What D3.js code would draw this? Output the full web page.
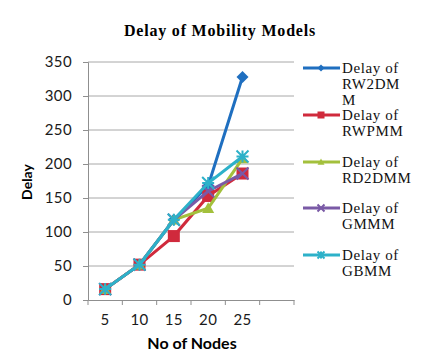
<!DOCTYPE html>
<html>
<head>
<meta charset="utf-8">
<script src="https://cdn.jsdelivr.net/npm/d3@7"></script>
<style>
  body { margin: 0; background: #fff; }
  svg { display: block; }
</style>
</head>
<body>
<div id="chart"></div>
<script>
// datos
const nodes = ['5', '10', '15', '20', '25', ''];
const rw2dmm = [16, 52, 118, 168, 328];
const rwpmm = [16, 52, 94, 153, 186];
const rd2dmm = [16, 52, 118, 135, 208];
const gmmm = [16, 52, 118, 160, 186];
const gbmm = [16, 52, 118, 172, 211];
const yTicks = [0, 50, 100, 150, 200, 250, 300, 350];
const seriesNames = [['Delay of', 'RW2DM', 'M'], ['Delay of', 'RWPMM'], ['Delay of', 'RD2DMM'], ['Delay of', 'GMMM'], ['Delay of', 'GBMM']];

const width = 427;
const height = 354;
const plotLeft = 88, plotRight = 294, plotTop = 62, plotBottom = 300;

const series = [
  { name: seriesNames[0], values: rw2dmm, color: '#1f6fc0', marker: 'diamond' },
  { name: seriesNames[1], values: rwpmm, color: '#d02a3c', marker: 'square' },
  { name: seriesNames[2], values: rd2dmm, color: '#a3c03c', marker: 'triangle' },
  { name: seriesNames[3], values: gmmm, color: '#7a5aa6', marker: 'x' },
  { name: seriesNames[4], values: gbmm, color: '#2db1c9', marker: 'star' }
];

const svg = d3.select('#chart').append('svg')
  .attr('width', width)
  .attr('height', height);

const x = d3.scaleBand().domain(nodes).range([plotLeft, plotRight]);
const y = d3.scaleLinear().domain([0, 350]).range([plotBottom, plotTop]);

// titulo
svg.append('text')
  .attr('x', 220)
  .attr('y', 36)
  .attr('text-anchor', 'middle')
  .style('font-family', '"Liberation Serif", "Times New Roman", serif')
  .style('font-weight', 'bold')
  .style('font-size', '16px')
  .style('letter-spacing', '0.8px')
  .attr('fill', '#000')
  .text('Delay of Mobility Models');

// rejilla
svg.append('g').selectAll('line')
  .data(yTicks.slice(1))
  .enter().append('line')
  .attr('x1', plotLeft).attr('x2', plotRight)
  .attr('y1', d => y(d)).attr('y2', d => y(d))
  .attr('stroke', '#a8a8a8').attr('stroke-width', 1);

// eje Y
const yAxis = svg.append('g')
  .attr('transform', `translate(${plotLeft},0)`)
  .call(d3.axisLeft(y).tickValues(yTicks).tickSize(5).tickPadding(11));
yAxis.select('.domain').attr('stroke', '#8f8f8f');
yAxis.selectAll('.tick line').attr('stroke', '#8f8f8f');
yAxis.selectAll('text')
  .style('font-family', 'Lato, sans-serif')
  .style('font-size', '15px')
  .style('letter-spacing', '0.4px')
  .attr('fill', '#1a1a1a');

// eje X
const xAxis = svg.append('g')
  .attr('transform', `translate(0,${plotBottom})`)
  .call(d3.axisBottom(x).tickSize(0).tickPadding(14));
xAxis.select('.domain').attr('stroke', '#8f8f8f');
xAxis.selectAll('text')
  .style('font-family', 'Lato, sans-serif')
  .style('font-size', '15px')
  .style('letter-spacing', '0.4px')
  .attr('fill', '#1a1a1a');
const edges = nodes.map(d => x(d)).concat([x.range()[1]]);
xAxis.selectAll('.edge')
  .data(edges)
  .enter().append('line')
  .attr('x1', d => d).attr('x2', d => d)
  .attr('y1', 0).attr('y2', 5)
  .attr('stroke', '#8f8f8f');

// titulos de ejes
svg.append('text')
  .attr('transform', 'translate(32,182) rotate(-90)')
  .attr('text-anchor', 'middle')
  .style('font-family', 'Lato, sans-serif')
  .style('font-weight', 'bold')
  .style('font-size', '14px')
  .attr('fill', '#000')
  .text('Delay');

svg.append('text')
  .attr('x', 192)
  .attr('y', 349)
  .attr('text-anchor', 'middle')
  .style('font-family', 'Lato, sans-serif')
  .style('font-weight', 'bold')
  .style('font-size', '16px')
  .attr('fill', '#000')
  .text('No of Nodes');

// marcadores
function drawMarker(g, type, color, s) {
  if (type === 'diamond') {
    g.append('path').attr('d', `M0,${-s}L${s},0L0,${s}L${-s},0Z`).attr('fill', color);
  } else if (type === 'square') {
    g.append('rect').attr('x', -s).attr('y', -s).attr('width', 2 * s).attr('height', 2 * s).attr('fill', color);
  } else if (type === 'triangle') {
    g.append('path').attr('d', `M0,${-s}L${s},${s * 0.8}L${-s},${s * 0.8}Z`).attr('fill', color);
  } else if (type === 'x') {
    g.append('path').attr('d', `M${-s},${-s}L${s},${s}M${-s},${s}L${s},${-s}`)
      .attr('stroke', color).attr('stroke-width', 2);
  } else if (type === 'star') {
    g.append('path').attr('d', `M${-s},${-s}L${s},${s}M${-s},${s}L${s},${-s}M0,${-s}L0,${s}M${-s},0L${s},0`)
      .attr('stroke', color).attr('stroke-width', 2);
  }
}

const line = d3.line()
  .x((d, i) => x(nodes[i]) + x.bandwidth() / 2)
  .y(d => y(d));

series.forEach(s => {
  const g = svg.append('g');
  g.append('path')
    .attr('d', line(s.values))
    .attr('fill', 'none')
    .attr('stroke', s.color)
    .attr('stroke-width', 3);
  s.values.forEach((v, i) => {
    const m = g.append('g')
      .attr('transform', `translate(${x(nodes[i]) + x.bandwidth() / 2},${y(v)})`);
    drawMarker(m, s.marker, s.color, 6);
  });
});

// leyenda
const legendY = [68, 115, 162, 208, 255];
series.forEach((s, i) => {
  const g = svg.append('g').attr('transform', `translate(0,${legendY[i]})`);
  g.append('line')
    .attr('x1', 303).attr('x2', 340)
    .attr('y1', 0).attr('y2', 0)
    .attr('stroke', s.color).attr('stroke-width', 3);
  const m = g.append('g').attr('transform', 'translate(321,0)');
  drawMarker(m, s.marker, s.color, 3.5);
  s.name.forEach((t, j) => {
    g.append('text')
      .attr('x', 342)
      .attr('y', 5 + j * 16)
      .style('font-family', '"Liberation Serif", "Times New Roman", serif')
      .style('font-size', '15px')
      .style('letter-spacing', '0.6px')
      .attr('fill', '#111')
      .text(t);
  });
});
</script>
</body>
</html>
